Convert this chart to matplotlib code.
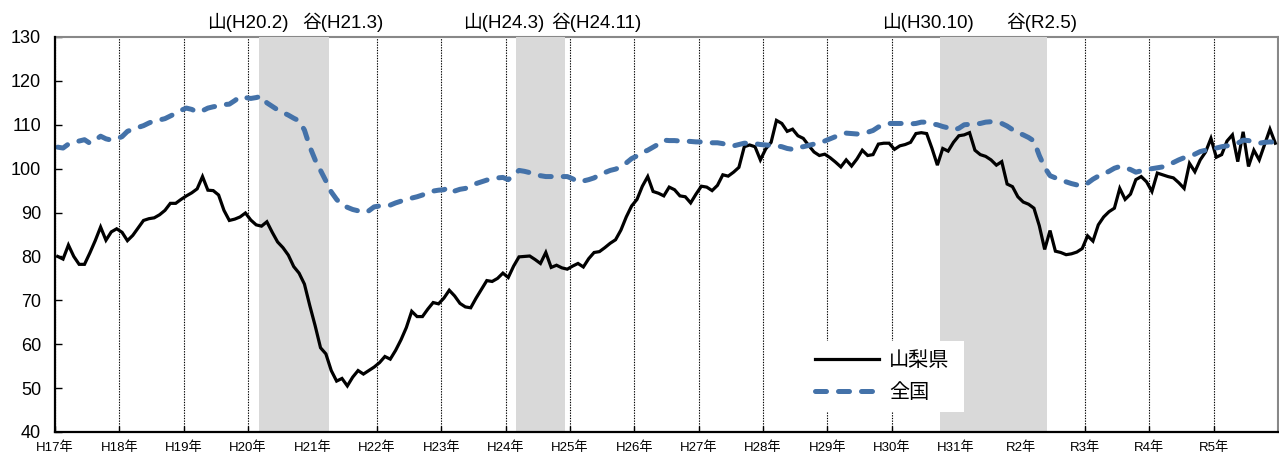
import numpy as np
import matplotlib
matplotlib.use("Agg")
import matplotlib.pyplot as plt
from matplotlib.transforms import blended_transform_factory

plt.rcParams["font.family"] = ["Liberation Sans", "Noto Sans CJK JP", "DejaVu Sans"]

# monthly index, H17.1 - R5.12
yamanashi = [
    80.0, 79.4, 82.6, 80.0, 78.2, 78.2, 80.8, 83.6, 86.7, 83.7, 85.6, 86.3,
    85.5, 83.6, 84.8, 86.5, 88.2, 88.6, 88.8, 89.5, 90.5, 92.1, 92.1, 93.0,
    93.8, 94.5, 95.4, 98.2, 95.1, 95.0, 94.0, 90.5, 88.2, 88.5, 89.0, 89.9,
    88.3, 87.2, 86.9, 87.9, 85.5, 83.3, 82.0, 80.3, 77.7, 76.2, 73.7, 68.8,
    64.2, 59.2, 57.8, 54.0, 51.6, 52.2, 50.5, 52.5, 54.0, 53.2, 54.0, 54.8,
    55.8, 57.2, 56.6, 58.6, 61.0, 63.8, 67.5, 66.3, 66.3, 68.0, 69.5, 69.2,
    70.5, 72.3, 71.0, 69.3, 68.5, 68.3, 70.5, 72.5, 74.5, 74.3, 75.0, 76.2,
    75.2, 77.8, 79.9, 80.0, 80.1, 79.3, 78.4, 80.9, 77.5, 78.0, 77.4, 77.1,
    77.8, 78.4, 77.6, 79.5, 80.9, 81.1, 82.0, 83.0, 83.8, 86.0, 89.0, 91.5,
    93.0, 96.0, 98.2, 94.8, 94.4, 93.8, 95.8, 95.2, 93.8, 93.6, 92.2, 94.2,
    96.0, 95.8, 95.0, 96.2, 98.6, 98.3, 99.2, 100.3, 105.0, 105.4, 105.0, 102.0,
    104.5, 106.0, 111.0, 110.3, 108.5, 109.0, 107.5, 106.9, 105.3, 103.8, 103.0, 103.3,
    102.5, 101.5, 100.4, 102.0, 100.6, 102.2, 104.2, 103.0, 103.2, 105.6, 105.8, 105.8,
    104.4, 105.2, 105.5, 106.0, 108.0, 108.2, 108.0, 104.6, 100.8, 104.6, 104.0, 106.0,
    107.5, 107.7, 108.2, 104.2, 103.2, 102.8, 102.0, 100.8, 101.6, 96.5, 95.9, 93.6,
    92.4, 91.9, 91.0, 87.0, 81.6, 85.9, 81.2, 80.9, 80.4, 80.6, 81.0, 81.8,
    84.7, 83.5, 87.2, 89.0, 90.2, 91.0, 95.5, 93.0, 94.2, 97.5, 98.2, 97.0,
    94.8, 99.0, 98.6, 98.2, 97.9, 96.8, 95.5, 101.2, 99.3, 102.0, 103.8, 106.9,
    102.6, 103.2, 106.3, 107.7, 101.6, 108.4, 100.5, 104.2, 102.0, 105.5, 109.0, 105.8,
]

zenkoku = [
    104.9, 104.7, 105.6, 106.0, 106.3, 106.6, 105.8, 106.5, 107.4, 106.8, 106.5, 106.8,
    107.3, 108.5, 109.0, 109.4, 109.8, 110.4, 110.9, 111.1, 111.4, 112.0, 112.6, 113.3,
    113.8, 113.5, 112.9, 113.2, 113.8, 114.1, 114.3, 114.6, 114.7, 115.5, 116.4, 116.2,
    116.0, 116.2, 116.5, 115.0, 114.2, 113.4, 112.8, 112.2, 111.5, 110.9, 108.8, 105.0,
    102.0, 99.6, 97.2, 94.7, 93.0, 91.7, 91.2, 90.7, 90.4, 90.0, 90.4, 91.3,
    91.5, 91.5, 91.7, 92.2, 92.6, 92.9, 93.3, 93.6, 94.0, 94.6, 94.9, 95.1,
    95.2, 95.8, 94.9, 95.3, 95.5, 96.0, 96.6, 97.0, 97.4, 97.6, 97.9, 98.0,
    97.5, 98.6, 99.6, 99.4, 99.1, 98.8, 98.4, 98.2, 98.2, 98.2, 98.2, 98.2,
    97.7, 97.0, 97.2, 97.5, 97.9, 98.6, 99.1, 99.6, 99.9, 100.4, 101.3, 102.3,
    102.9, 103.7, 104.2, 104.9, 105.6, 106.5, 106.4, 106.4, 106.3, 106.3, 106.2, 106.1,
    106.1, 106.0, 105.9, 105.9, 105.7, 105.3, 105.2, 105.5, 105.8, 105.8, 105.7, 105.5,
    105.4, 105.3, 105.2, 105.0, 104.6, 104.4, 104.9, 105.0, 105.3, 105.6, 105.8, 106.3,
    106.8, 107.3, 107.8, 108.1, 108.0, 107.9, 108.1, 108.3, 108.7, 109.5, 109.9, 110.3,
    110.3, 110.3, 110.3, 110.2, 110.3, 110.6, 110.6, 110.2, 110.0, 109.6, 109.3, 108.8,
    109.2, 110.0, 110.1, 110.2, 110.3, 110.6, 110.7, 110.5, 110.3, 109.7, 108.9, 108.2,
    107.7, 107.1, 106.3, 103.0, 100.3, 98.4, 97.9, 97.4, 97.0, 96.6, 96.3, 96.1,
    96.7, 97.6, 98.3, 98.8, 99.4, 100.1, 100.5, 100.2, 99.8, 99.2, 99.5, 99.9,
    100.0, 100.2, 100.4, 100.9, 101.4, 102.0, 102.5, 102.8, 103.3, 103.9, 104.2, 104.4,
    104.7, 105.0, 105.2, 105.4, 105.8, 106.5, 106.4, 106.0, 105.8, 106.0, 106.1, 106.0,
]

year_labels = ["H17年", "H18年", "H19年", "H20年", "H21年", "H22年", "H23年",
               "H24年", "H25年", "H26年", "H27年", "H28年", "H29年", "H30年",
               "H31年", "R2年", "R3年", "R4年", "R5年"]

# recession periods (month index from H17.1)
shade_start = [38, 86, 165]
shade_end = [51, 95, 185]

turn_labels = ["山(H20.2)", "谷(H21.3)", "山(H24.3)", "谷(H24.11)", "山(H30.10)", "谷(R2.5)"]
turn_pos = [36.0, 53.7, 83.6, 101.0, 162.8, 183.9]

blue = "#4472a9"
x = np.arange(len(yamanashi)) + 0.5
n_months = 12 * len(year_labels)

fig = plt.figure(figsize=(12.79, 4.59), dpi=100)
ax = fig.add_axes([55 / 1279, 27 / 459, 1223 / 1279, 395 / 459])

for s, e in zip(shade_start, shade_end):
    ax.axvspan(s, e, color="#d9d9d9", lw=0, zorder=3)

ax.plot(x, yamanashi, color="black", lw=2.3, zorder=4, label="山梨県",
        solid_joinstyle="miter")
ax.plot(x, zenkoku, color=blue, lw=3.6, zorder=5, label="全国",
        dashes=(2.2, 2.4), dash_capstyle="round")

ax.set_xlim(0, n_months)
ax.set_ylim(40, 130)
ax.set_yticks(range(40, 131, 10))
ax.set_xticks(range(0, n_months, 12))
ax.set_xticklabels(year_labels)
ax.grid(axis="x", color="black", lw=0.8, linestyle=(0, (1.2, 1.2)), zorder=2)
ax.set_axisbelow(True)

ax.tick_params(axis="y", direction="in", length=5, width=1, labelsize=13, pad=10)
ax.tick_params(axis="x", direction="in", length=4, width=1, labelsize=9.5, pad=7)

for side in ["left", "bottom"]:
    ax.spines[side].set_color("black")
    ax.spines[side].set_linewidth(1.6)
    ax.spines[side].set_zorder(6)
for side in ["top", "right"]:
    ax.spines[side].set_color("#888888")
    ax.spines[side].set_linewidth(1.5)
    ax.spines[side].set_zorder(2.5)

trans = blended_transform_factory(ax.transData, ax.transAxes)
for label, pos in zip(turn_labels, turn_pos):
    ax.text(pos, 1.038, label, transform=trans, ha="center", va="center",
            fontsize=13.5)

leg = ax.legend(loc="lower left", bbox_to_anchor=(0.613, 0.05, 0.13, 0.19),
                mode="expand", fontsize=14.5, frameon=True, fancybox=False,
                handlelength=3.2, handletextpad=0.5, labelspacing=0.65,
                borderpad=0.5, borderaxespad=0)
leg.get_frame().set_edgecolor("none")
leg.get_frame().set_facecolor("white")
leg.get_frame().set_alpha(1)
leg.set_zorder(7)

fig.savefig("out.png", dpi=100)
